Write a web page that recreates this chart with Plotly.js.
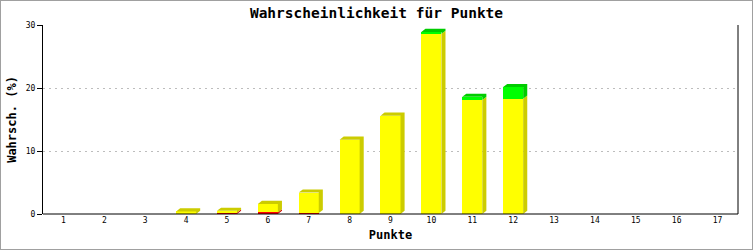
<!DOCTYPE html>
<html>
<head>
<meta charset="utf-8">
<script src="https://cdn.plot.ly/plotly-3.0.1.min.js"></script>
<style>
  html, body { margin: 0; padding: 0; background: #fff; }
  #chart { width: 753px; height: 250px; }
  #frame { position: absolute; left: 0; top: 0; width: 753px; height: 250px; box-sizing: border-box; border: 1px solid #a0a0a0; pointer-events: none; }
</style>
</head>
<body>
<div id="chart"></div>
<div id="frame"></div>
<script>
// Data
const punkte = [1, 2, 3, 4, 5, 6, 7, 8, 9, 10, 11, 12, 13, 14, 15, 16, 17];
const tickLabels = ['1','2','3','4','5','6','7','8','9','10','11','12','13','14','15','16','17'];
const rot  = [0, 0, 0, 0, 0.2, 0.25, 0.15, 0, 0, 0, 0, 0, 0, 0, 0, 0, 0];
const gelb = [0, 0, 0, 0.4, 0.3, 1.35, 3.25, 11.8, 15.6, 28.6, 18.1, 18.3, 0, 0, 0, 0, 0];
const gruen = [0, 0, 0, 0, 0, 0, 0, 0, 0, 0.3, 0.5, 1.85, 0, 0, 0, 0, 0];

const seriesVals = [rot, gelb, gruen];
const frontColors = ['#ff0000', '#ffff00', '#00ff00'];
const sideColors  = ['#cc0000', '#cccc00', '#00cc00'];

const barW = 0.49;
const dx = 0.1;   // depth in category units
const dy = 0.5;   // depth in value units

const traces = [];
seriesVals.forEach((vals, si) => {
  traces.push({
    type: 'bar', x: punkte, y: vals, width: barW,
    marker: { color: frontColors[si], line: { width: 0 } },
    hoverinfo: 'skip', showlegend: false
  });
});

seriesVals.forEach((vals, si) => {
  const xs = [], ys = [];
  punkte.forEach((p, i) => {
    const v = vals[i];
    if (v <= 0) return;
    let base = 0;
    for (let k = 0; k < si; k++) base += seriesVals[k][i];
    const top = base + v;
    const xr = p + barW / 2, xl = p - barW / 2;
    xs.push(xr, xr + dx, xr + dx, xr, xr, null);
    ys.push(base, base + dy, top + dy, top, base, null);
    let above = 0;
    for (let k = si + 1; k < seriesVals.length; k++) above += seriesVals[k][i];
    if (above <= 0) {
      xs.push(xl, xl + dx, xr + dx, xr, xl, null);
      ys.push(top, top + dy, top + dy, top, top, null);
    }
  });
  traces.push({
    type: 'scatter', mode: 'lines', x: xs, y: ys, fill: 'toself',
    fillcolor: sideColors[si], line: { width: 0, color: sideColors[si] },
    hoverinfo: 'skip', showlegend: false, connectgaps: false
  });
});

const layout = {
  width: 753, height: 250,
  margin: { l: 43, r: 15, t: 25, b: 36, pad: 0 },
  paper_bgcolor: '#ffffff', plot_bgcolor: '#ffffff',
  barmode: 'stack', bargap: 0,
  title: {
    text: '<b>Wahrscheinlichkeit für Punkte</b>',
    font: { family: 'DejaVu Sans Mono', size: 14.5, color: '#000' },
    x: 0.5, xanchor: 'center', y: 0.95, yanchor: 'middle', yref: 'container'
  },
  xaxis: {
    range: [0.5, 17.5], tickmode: 'array', tickvals: punkte, ticktext: tickLabels,
    showgrid: false, zeroline: false, showline: false, ticks: '',
    tickfont: { family: 'DejaVu Sans Mono', size: 8, color: '#000' },
    title: { text: '<b>Punkte</b>', font: { family: 'DejaVu Sans Mono', size: 12, color: '#000' }, standoff: 6 },
    fixedrange: true
  },
  yaxis: {
    range: [0, 30], tickmode: 'array', tickvals: [0, 10, 20, 30],
    showgrid: true, gridcolor: '#bdbdbd', griddash: '2px,4px', gridwidth: 1,
    zeroline: false, showline: true, linecolor: '#000', linewidth: 1,
    ticks: 'outside', ticklen: 5, tickcolor: '#000', tickwidth: 1,
    tickfont: { family: 'DejaVu Sans Mono', size: 8, color: '#000' },
    title: { text: '<b>Wahrsch. (%)</b>', font: { family: 'DejaVu Sans Mono', size: 12, color: '#000' }, standoff: 6 },
    fixedrange: true
  },
  shapes: [
    { type: 'line', xref: 'paper', yref: 'paper', x0: 0, x1: 1, y0: 0, y1: 0, line: { color: '#000', width: 1 } },
    { type: 'line', xref: 'paper', yref: 'paper', x0: 1, x1: 1, y0: 0, y1: 1, line: { color: '#000', width: 1 } }
  ]
};

Plotly.newPlot('chart', traces, layout, { staticPlot: true, displayModeBar: false });
</script>
</body>
</html>
